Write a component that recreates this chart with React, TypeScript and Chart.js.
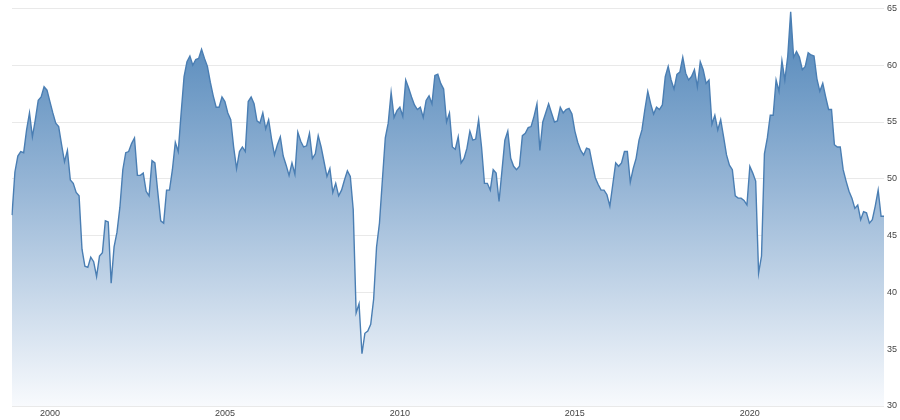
import React, { useEffect, useRef } from "react";
import Chart from "chart.js/auto";

// Monthly series: Dec 1998 .. Nov 2023
const START_YEAR = 1998;
const START_MONTH = 11; // December (0-based)

const v1998 = [46.8];
const v1999 = [50.6, 52.0, 52.4, 52.3, 54.3, 55.8, 53.7, 55.2, 56.9, 57.2, 58.1, 57.8];
const v2000 = [56.8, 55.8, 54.9, 54.6, 53.0, 51.5, 52.5, 49.9, 49.6, 48.8, 48.5, 43.8];
const v2001 = [42.3, 42.2, 43.1, 42.7, 41.4, 43.2, 43.5, 46.3, 46.2, 40.8, 44.0, 45.3];
const v2002 = [47.5, 50.8, 52.3, 52.4, 53.1, 53.6, 50.3, 50.3, 50.5, 48.9, 48.5, 51.6];
const v2003 = [51.4, 48.8, 46.3, 46.1, 49.0, 49.0, 50.8, 53.2, 52.4, 55.8, 59.0, 60.3];
const v2004 = [60.8, 60.0, 60.5, 60.6, 61.4, 60.6, 59.9, 58.5, 57.3, 56.3, 56.3, 57.2];
const v2005 = [56.8, 55.8, 55.2, 52.8, 50.9, 52.4, 52.8, 52.4, 56.8, 57.2, 56.6, 55.1];
const v2006 = [54.9, 55.8, 54.4, 55.2, 53.5, 52.1, 53.0, 53.7, 52.0, 51.2, 50.3, 51.4];
const v2007 = [50.4, 54.1, 53.3, 52.8, 52.9, 54.0, 51.8, 52.2, 53.8, 52.8, 51.5, 50.2];
const v2008 = [50.9, 48.8, 49.6, 48.5, 49.0, 49.9, 50.7, 50.2, 47.3, 38.2, 39.0, 34.6];
const v2009 = [36.4, 36.6, 37.2, 39.4, 44.0, 46.1, 49.9, 53.6, 54.9, 57.6, 55.4, 56.0];
const v2010 = [56.3, 55.5, 58.7, 58.0, 57.2, 56.5, 56.1, 56.3, 55.4, 56.9, 57.3, 56.6];
const v2011 = [59.1, 59.2, 58.4, 57.9, 55.0, 55.8, 52.8, 52.6, 53.7, 51.4, 51.8, 52.7];
const v2012 = [54.2, 53.4, 53.5, 55.2, 52.8, 49.6, 49.6, 49.0, 50.8, 50.5, 48.0, 50.7];
const v2013 = [53.4, 54.2, 51.8, 51.1, 50.8, 51.1, 53.8, 54.0, 54.5, 54.6, 55.5, 56.6];
const v2014 = [52.5, 55.0, 55.8, 56.6, 55.8, 55.0, 55.1, 56.3, 55.8, 56.1, 56.2, 55.7];
const v2015 = [54.2, 53.2, 52.5, 52.1, 52.7, 52.6, 51.3, 50.1, 49.5, 49.0, 49.0, 48.6];
const v2016 = [47.6, 49.5, 51.4, 51.1, 51.4, 52.4, 52.4, 49.7, 50.9, 51.8, 53.4, 54.3];
const v2017 = [56.1, 57.7, 56.6, 55.7, 56.3, 56.1, 56.5, 59.0, 59.9, 58.7, 57.9, 59.2];
const v2018 = [59.4, 60.7, 59.3, 58.7, 59.0, 59.6, 58.1, 60.3, 59.6, 58.4, 58.7, 54.8];
const v2019 = [55.6, 54.3, 55.2, 53.7, 52.1, 51.2, 50.8, 48.5, 48.3, 48.3, 48.1, 47.7];
const v2020 = [51.1, 50.5, 49.8, 41.7, 43.2, 52.2, 53.6, 55.6, 55.6, 58.7, 57.7, 60.4];
const v2021 = [58.7, 60.8, 64.7, 60.7, 61.2, 60.7, 59.6, 59.9, 61.1, 60.9, 60.8, 58.8];
const v2022 = [57.7, 58.4, 57.2, 56.1, 56.1, 53.0, 52.8, 52.8, 50.8, 49.8, 48.9, 48.3];
const v2023 = [47.4, 47.7, 46.4, 47.1, 47.0, 46.1, 46.4, 47.6, 49.0, 46.7, 46.7];

const values: number[] = [
  ...v1998, ...v1999, ...v2000, ...v2001, ...v2002, ...v2003, ...v2004,
  ...v2005, ...v2006, ...v2007, ...v2008, ...v2009, ...v2010, ...v2011,
  ...v2012, ...v2013, ...v2014, ...v2015, ...v2016, ...v2017, ...v2018,
  ...v2019, ...v2020, ...v2021, ...v2022, ...v2023,
];

const xTickYears = [2000, 2005, 2010, 2015, 2020];
const yMin = 30;
const yMax = 65;
const yStep = 5;

const labels: string[] = values.map((_, i) => {
  const total = START_YEAR * 12 + START_MONTH + i;
  const y = Math.floor(total / 12);
  const m = total % 12;
  return `${y}-${String(m + 1).padStart(2, "0")}`;
});

const majorYear = (i: number): number | null => {
  const lab = labels[i];
  if (!lab) return null;
  const [y, m] = lab.split("-").map(Number);
  return m === 1 && xTickYears.includes(y) ? y : null;
};

export default function App() {
  const ref = useRef<HTMLCanvasElement | null>(null);

  useEffect(() => {
    if (!ref.current) return;
    const gridColor = "#e9e9e9";
    const chart = new Chart(ref.current, {
      type: "line",
      data: {
        labels,
        datasets: [
          {
            data: values,
            borderColor: "#4a7eb3",
            borderWidth: 1.4,
            pointRadius: 0,
            tension: 0,
            fill: "start",
            backgroundColor: (ctx: any) => {
              const { chart } = ctx;
              const area = chart.chartArea;
              if (!area) return "rgba(90,140,190,0.5)";
              const g = chart.ctx.createLinearGradient(0, area.top, 0, area.bottom);
              g.addColorStop(0, "#4e84b8");
              g.addColorStop(0.45, "#97b6d6");
              g.addColorStop(1, "#f8fafd");
              return g;
            },
          },
        ],
      },
      options: {
        animation: false,
        responsive: false,
        maintainAspectRatio: false,
        layout: { padding: { left: 12, top: 8, right: 0, bottom: 0 } },
        plugins: { legend: { display: false }, tooltip: { enabled: false } },
        scales: {
          x: {
            type: "category",
            border: { display: false },
            grid: {
              drawTicks: false,
              color: (c: any) => (majorYear(c.index) !== null ? gridColor : "rgba(0,0,0,0)"),
            },
            ticks: {
              autoSkip: false,
              maxRotation: 0,
              padding: 2,
              color: "#444",
              font: { family: "'Liberation Sans', Arial, sans-serif", size: 9 },
              callback: (_v: any, i: number) => {
                const y = majorYear(i);
                return y === null ? null : String(y);
              },
            },
            afterFit: (s: any) => {
              s.height = 14;
            },
          },
          y: {
            position: "right",
            min: yMin,
            max: yMax,
            border: { display: false },
            grid: { drawTicks: false, color: gridColor },
            ticks: {
              stepSize: yStep,
              padding: 3,
              color: "#444",
              font: { family: "'Liberation Sans', Arial, sans-serif", size: 9 },
            },
            afterFit: (s: any) => {
              s.width = 16;
            },
          },
        },
      },
    });
    return () => chart.destroy();
  }, []);

  return (
    <div style={{ position: "fixed", left: 0, top: 0, width: 900, height: 420, background: "#fff" }}>
      <canvas ref={ref} width={900} height={420} style={{ width: 900, height: 420 }} />
    </div>
  );
}
